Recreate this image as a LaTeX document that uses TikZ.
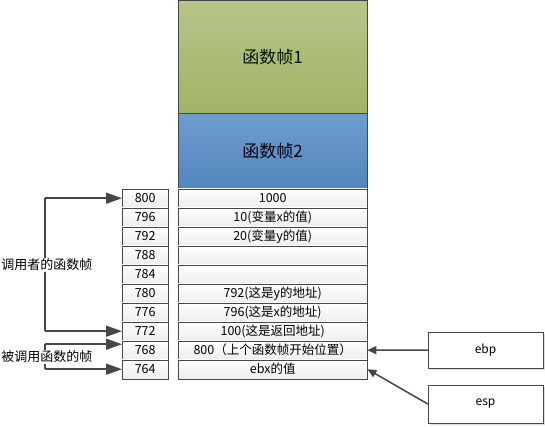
\documentclass[tikz,border=0pt]{standalone}
\usepackage{fontspec}
\setmainfont{Noto Sans CJK SC}
\usetikzlibrary{arrows.meta,shadows}
\definecolor{frameline}{RGB}{70,70,70}
\definecolor{greentop}{RGB}{184,196,138}
\definecolor{greenbot}{RGB}{160,180,102}
\definecolor{bluetop}{RGB}{112,156,206}
\definecolor{bluebot}{RGB}{82,134,190}
\begin{document}
\begin{tikzpicture}[x=1pt,y=-1pt]
      % Define styles for nodes
      \tikzstyle{addr} = [anchor=north west,draw=frameline, rectangle,
      minimum width=46pt, minimum height=19pt, inner sep=0pt,
      top color=white, bottom color=black!7,
      drop shadow={shadow xshift=1.2pt,shadow yshift=-1pt,opacity=.25},
      font=\fontsize{12.5}{14}\selectfont]
      \tikzstyle{slot} = [anchor=north west,draw=frameline, rectangle,
      minimum width=189pt, minimum height=19pt, inner sep=0pt,
      top color=white, bottom color=black!7,
      font=\fontsize{12.5}{14}\selectfont]
      \tikzstyle{frame} = [anchor=north west,draw=frameline, rectangle,
      minimum width=189pt, inner sep=0pt, font=\fontsize{17}{19}\selectfont]
      \tikzstyle{register} = [draw=frameline, rectangle, fill=white,
      minimum width=115pt, minimum height=36pt,
      drop shadow={shadow xshift=1.5pt,shadow yshift=-1.5pt,opacity=.25},
      font=\fontsize{12}{14}\selectfont]
      \tikzstyle{bracelabel} = [fill=white, inner sep=1pt,
      font=\fontsize{13}{15}\selectfont]
      \tikzstyle{pointer} = [line width=1.5pt, frameline,
      -{Triangle[length=16pt,width=11pt]}]
      \tikzstyle{regpointer} = [line width=1.5pt, frameline,
      -{Triangle[length=9pt,width=8pt]}]

      \useasboundingbox (0,0) rectangle (545,426);

      % Frames at top
      \node[frame, minimum height=113pt, top color=greentop,
      bottom color=greenbot, text=black!80!green!40!black] (frame1) at (178,0) {函数帧1};
      \node[frame, minimum height=75.5pt, top color=bluetop,
      bottom color=bluebot, text=black!75!blue!30!black] (frame2) at (178,113) {函数帧2};

      % Addresses
      \node[addr] (a800) at (122,188.5) {800};
      \node[addr] (a796) at (122,207.5) {796};
      \node[addr] (a792) at (122,226.5) {792};
      \node[addr] (a788) at (122,245.5) {788};
      \node[addr] (a784) at (122,264.5) {784};
      \node[addr] (a780) at (122,283.5) {780};
      \node[addr] (a776) at (122,302.5) {776};
      \node[addr] (a772) at (122,321.5) {772};
      \node[addr] (a768) at (122,340.5) {768};
      \node[addr] (a764) at (122,359.5) {764};

      % Stack contents
      \node[slot] (v800) at (178,188.5) {1000};
      \node[slot] (v796) at (178,207.5) {10(变量x的值)};
      \node[slot] (v792) at (178,226.5) {20(变量y的值)};
      \node[slot] (v788) at (178,245.5) {};
      \node[slot] (v784) at (178,264.5) {};
      \node[slot] (v780) at (178,283.5) {792(这是y的地址)};
      \node[slot] (v776) at (178,302.5) {796(这是x的地址)};
      \node[slot] (v772) at (178,321.5) {100(这是返回地址)};
      \node[slot] (v768) at (178,340.5) {800（上个函数帧开始位置）};
      \node[slot] (v764) at (178,359.5) {ebx的值};

      % Registers
      \node[register] (ebp) at (485.5,350) {ebp};
      \node[register, minimum height=38pt] (esp) at (485.5,404) {esp};

      % Brackets on the left
      \coordinate (bracket) at (45,0);
      \draw[line width=1.5pt, frameline] (a800.west -| bracket) -- (a772.west -| bracket);
      \draw[pointer] (a800.west -| bracket) -- (a800.west);
      \draw[pointer] (a772.west -| bracket) -- (a772.west);
      \node[bracelabel] (caller) at (47,265) {调用者的函数帧};

      \draw[line width=1.5pt, frameline] ([yshift=6pt]a768.west -| bracket) -- (a764.west -| bracket);
      \draw[pointer] ([yshift=6pt]a768.west -| bracket) -- ([yshift=6pt]a768.west);
      \draw[pointer] (a764.west -| bracket) -- (a764.west);
      \node[bracelabel] (callee) at (47,357) {被调用函数的帧};

      % Register pointers
      \draw[regpointer] (ebp.west) -- (v768.east);
      \draw[regpointer] (esp.west) -- (v764.east);

\end{tikzpicture}
\end{document}
